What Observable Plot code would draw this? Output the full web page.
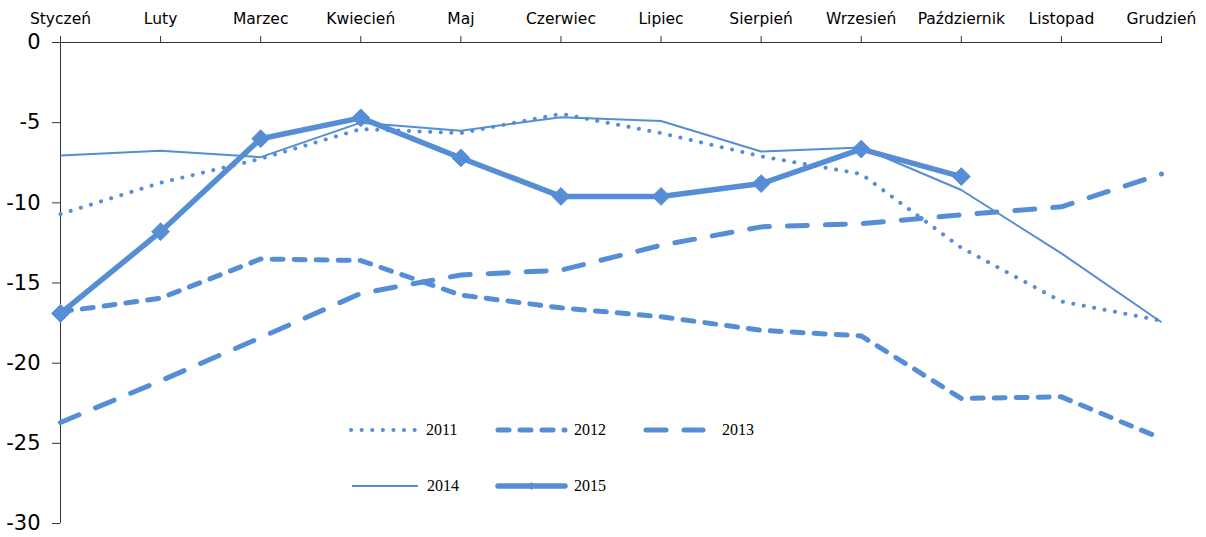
<!DOCTYPE html>
<html>
<head>
<meta charset="utf-8">
<script src="https://cdn.jsdelivr.net/npm/d3@7"></script>
<script src="https://cdn.jsdelivr.net/npm/@observablehq/plot@0.6"></script>
<style>
  html, body { margin: 0; padding: 0; background: #fff; }
  #wrap { position: relative; width: 1206px; height: 537px; }
  #wrap svg.plot { font-family: "DejaVu Sans", Verdana, sans-serif; }
  .leg { position: absolute; font-family: "Liberation Serif", "Times New Roman", serif; font-size: 16px; color: #000; display: flex; align-items: center; }
  .leg svg { display: block; margin-right: 6px; }
</style>
</head>
<body>
<div id="wrap"></div>
<script>
const months = ["Styczeń","Luty","Marzec","Kwiecień","Maj","Czerwiec","Lipiec","Sierpień","Wrzesień","Październik","Listopad","Grudzień"];
const yTicks = [0, -5, -10, -15, -20, -25, -30];
const v2011 = [-10.7, -8.75, -7.25, -5.4, -5.65, -4.45, -5.65, -7.1, -8.2, -12.8, -16.15, -17.35];
const v2012 = [-16.8, -15.95, -13.5, -13.6, -15.75, -16.55, -17.1, -17.95, -18.3, -22.2, -22.1, -24.7];
const v2013 = [-23.7, -21.1, -18.4, -15.65, -14.5, -14.2, -12.65, -11.5, -11.3, -10.75, -10.25, -8.2];
const v2014 = [-7.05, -6.75, -7.15, -5.0, -5.5, -4.66, -4.9, -6.8, -6.55, -9.2, -13.15, -17.45];
const v2015 = [-16.9, -11.8, -6.0, -4.7, -7.2, -9.6, -9.6, -8.8, -6.65, -8.36];

const color = "#558ed5";
const seriesDefs = [
  {name: "2011", values: v2011, style: {strokeWidth: 4, strokeDasharray: "0.1 10.5", strokeLinecap: "round"}},
  {name: "2012", values: v2012, style: {strokeWidth: 5, strokeDasharray: "11 11", strokeLinecap: "round"}},
  {name: "2013", values: v2013, style: {strokeWidth: 5, strokeDasharray: "20 18", strokeLinecap: "round"}},
  {name: "2014", values: v2014, style: {strokeWidth: 2, strokeLinecap: "butt"}},
  {name: "2015", values: v2015, style: {strokeWidth: 5.5, strokeLinecap: "round", strokeLinejoin: "round"}, marker: true}
];

const rows = s => s.values.map((v, i) => ({m: i, v}));

const marks = [];
for (const s of seriesDefs) {
  marks.push(Plot.line(rows(s), {x: "m", y: "v", stroke: color, strokeLinejoin: "round", ...s.style}));
  if (s.marker) {
    marks.push(Plot.dot(rows(s), {x: "m", y: "v", symbol: "diamond2", r: 8, fill: color, stroke: color, strokeWidth: 1}));
  }
}

const chart = Plot.plot({
  width: 1206,
  height: 537,
  marginLeft: 60,
  marginRight: 45,
  marginTop: 42,
  marginBottom: 14,
  x: {domain: [0, 11], label: null},
  y: {domain: [-30, 0], label: null},
  marks: [
    Plot.axisX({anchor: "top", ticks: d3.range(12), tickFormat: i => months[i], tickSize: 7, tickPadding: 12, fontSize: 15.5, label: null, stroke: "#333", fill: "#000"}),
    Plot.axisY({ticks: yTicks, tickFormat: d => String(d), tickSize: 8, tickPadding: 12, fontSize: 21, label: null, stroke: "#333", fill: "#000"}),
    Plot.ruleY([0], {stroke: "#333", strokeWidth: 1}),
    Plot.ruleX([0], {stroke: "#333", strokeWidth: 1}),
    ...marks
  ]
});
chart.classList.add("plot");
const wrap = document.getElementById("wrap");
wrap.appendChild(chart);

// Legend (HTML overlay)
const legendPos = {
  "2011": {left: 348, top: 420, w: 72, lineEnd: 69},
  "2012": {left: 495, top: 420, w: 73, lineEnd: 70},
  "2013": {left: 643, top: 420, w: 73, lineEnd: 60},
  "2014": {left: 349, top: 476, w: 72, lineEnd: 69},
  "2015": {left: 495, top: 476, w: 73, lineEnd: 70}
};
for (const s of seriesDefs) {
  const p = legendPos[s.name];
  const div = document.createElement("div");
  div.className = "leg";
  div.style.left = p.left + "px";
  div.style.top = p.top + "px";
  div.style.height = "20px";
  const ns = "http://www.w3.org/2000/svg";
  const svg = document.createElementNS(ns, "svg");
  svg.setAttribute("width", p.w);
  svg.setAttribute("height", 20);
  const line = document.createElementNS(ns, "line");
  line.setAttribute("x1", 3); line.setAttribute("x2", p.lineEnd);
  line.setAttribute("y1", 10); line.setAttribute("y2", 10);
  line.setAttribute("stroke", color);
  line.setAttribute("stroke-width", s.style.strokeWidth);
  if (s.style.strokeDasharray) line.setAttribute("stroke-dasharray", s.style.strokeDasharray);
  line.setAttribute("stroke-linecap", s.style.strokeLinecap);
  svg.appendChild(line);
  if (s.marker) {
    const d = document.createElementNS(ns, "path");
    const cx = p.w / 2, r = 4;
    d.setAttribute("d", `M${cx},${10 - r}L${cx + r},10L${cx},${10 + r}L${cx - r},10Z`);
    d.setAttribute("fill", color);
    svg.appendChild(d);
  }
  div.appendChild(svg);
  const t = document.createElement("span");
  t.textContent = s.name;
  div.appendChild(t);
  wrap.appendChild(div);
}
</script>
</body>
</html>
